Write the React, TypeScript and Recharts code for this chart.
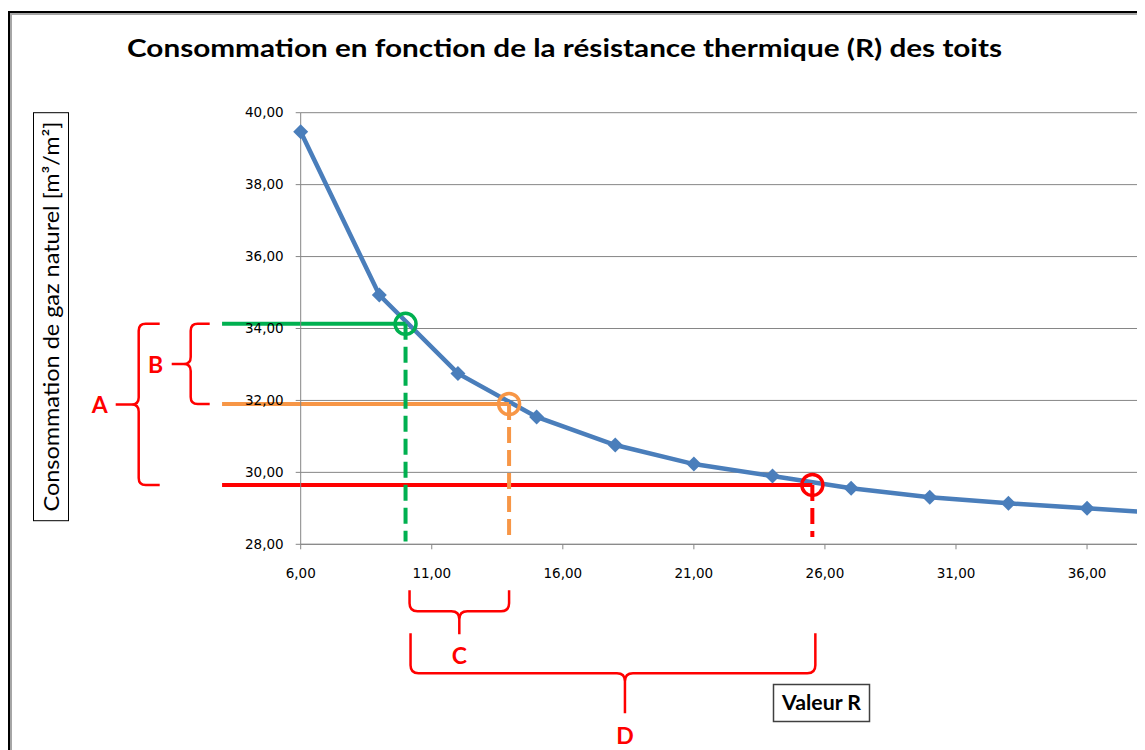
import React from 'react';
import {
  LineChart,
  Line,
  XAxis,
  YAxis,
  CartesianGrid,
  ReferenceLine,
  ReferenceDot,
  ReferenceArea,
} from 'recharts';

// ---- data ----
const R_VALUES = [6, 9, 12, 15, 18, 21, 24, 27, 30, 33, 36, 39];
const CONSUMPTION = [39.47, 34.93, 32.75, 31.54, 30.76, 30.23, 29.9, 29.56, 29.31, 29.14, 29.0, 28.86];
const X_TICKS = [6, 11, 16, 21, 26, 31, 36];
const Y_TICKS = [28, 30, 32, 34, 36, 38, 40];

// highlighted readings (green, orange, red)
const MARK_R = [10, 13.95, 25.52];
const MARK_CONS = [34.13, 31.9, 29.65];
const MARK_COLORS = ['#00B050', '#F79646', '#FF0000'];
const MARK_LINE_START = 3;
const MARK_DASH_END = [28.08, 28.08, 28.2];

const TITLE = 'Consommation en fonction de la résistance thermique (R) des toits';
const Y_TITLE = 'Consommation de gaz naturel [m³/m²]';
const X_TITLE = 'Valeur R';
const BRACE_LABELS = ['A', 'B', 'C', 'D'];

const data = R_VALUES.map((r, i) => ({ r, c: CONSUMPTION[i] }));
const fmt = (v: number) => v.toFixed(2).replace('.', ',');

const SERIES_COLOR = '#4A7EBB';
const GRID = '#868686';
const BRACE_RED = '#FF0000';
const FONT = 'Lato, "Open Sans", sans-serif';

const Diamond = (props: any) => {
  const { cx, cy, index } = props;
  if (cx == null || cy == null) return <g key={`d${index}`} />;
  const s = 7.5;
  return (
    <path
      key={`d${index}`}
      d={`M${cx},${cy - s} L${cx + s},${cy} L${cx},${cy + s} L${cx - s},${cy} Z`}
      fill={SERIES_COLOR}
    />
  );
};

// vertical curly brace (point on the left), offsets relative to plot left
const vBrace =
  (o: { arm: number; spine: number; tip: number; lx: number; label: string }) =>
  (p: any) => {
    const top = Math.min(p.y, p.y + p.height);
    const bot = Math.max(p.y, p.y + p.height);
    const mid = (top + bot) / 2;
    const x0 = Math.min(p.x, p.x + p.width);
    const a = x0 + o.arm;
    const s = x0 + o.spine;
    const t = x0 + o.tip;
    const r = 7;
    const d = `M${a},${top} L${s + r},${top} Q${s},${top} ${s},${top + r} L${s},${mid - r} Q${s},${mid} ${s - r},${mid} L${t},${mid} M${s - r},${mid} Q${s},${mid} ${s},${mid + r} L${s},${bot - r} Q${s},${bot} ${s + r},${bot} L${a},${bot}`;
    return (
      <g>
        <path d={d} fill="none" stroke={BRACE_RED} strokeWidth={2.5} />
        <text
          x={x0 + o.lx}
          y={mid}
          dominantBaseline="central"
          textAnchor="middle"
          fontFamily={FONT}
          fontWeight="bold"
          fontSize={23}
          fill={BRACE_RED}
        >
          {o.label}
        </text>
      </g>
    );
  };

// horizontal curly brace (point downward), offsets relative to plot bottom
const hBrace =
  (o: { dl: number; dr: number; yTop: number; yLine: number; yTip: number; shift: number; ly: number; label: string }) =>
  (p: any) => {
    const left = Math.min(p.x, p.x + p.width) + o.dl;
    const right = Math.max(p.x, p.x + p.width) + o.dr;
    const base = Math.max(p.y, p.y + p.height);
    const m = (left + right) / 2 + o.shift;
    const yt = base + o.yTop;
    const yl = base + o.yLine;
    const yp = base + o.yTip;
    const r = 8;
    const d = `M${left},${yt} L${left},${yl - r} Q${left},${yl} ${left + r},${yl} L${m - r},${yl} Q${m},${yl} ${m},${yl + r} L${m},${yp} M${m},${yl + r} Q${m},${yl} ${m + r},${yl} L${right - r},${yl} Q${right},${yl} ${right},${yl - r} L${right},${yt}`;
    return (
      <g>
        <path d={d} fill="none" stroke={BRACE_RED} strokeWidth={2.5} />
        <text
          x={m}
          y={base + o.ly}
          dominantBaseline="central"
          textAnchor="middle"
          fontFamily={FONT}
          fontWeight="bold"
          fontSize={23}
          fill={BRACE_RED}
        >
          {o.label}
        </text>
      </g>
    );
  };

export default function App() {
  const W = 1137;
  const H = 742;
  return (
    <div style={{ position: 'relative', width: W, height: H, overflow: 'hidden', background: '#fff' }}>
      {/* frame */}
      <div
        style={{
          position: 'absolute',
          left: 0,
          top: 3,
          width: W + 60,
          height: H + 60,
          border: '2px solid #000',
          boxShadow: 'inset 2px 2px 0 #a6a6a6',
          boxSizing: 'border-box',
        }}
      />
      <svg width={W} height={H} style={{ position: 'absolute', left: 0, top: 0 }}>
        <text
          x={556.5}
          y={49}
          textAnchor="middle"
          fontFamily={FONT}
          fontWeight="bold"
          fontSize={25}
          fill="#000"
          textLength={875}
          lengthAdjust="spacingAndGlyphs"
        >
          {TITLE}
        </text>
        <rect x={25.5} y={104.7} width={35} height={408} fill="#fff" stroke="#000" strokeWidth={1} />
        <text
          transform="translate(51, 308.5) rotate(-90)"
          x={0}
          y={0}
          textAnchor="middle"
          fontFamily={FONT}
          fontSize={20.5}
          fill="#000"
          textLength={390}
          lengthAdjust="spacingAndGlyphs"
        >
          {Y_TITLE}
        </text>
        <rect x={765.5} y={676.5} width={96} height={37} fill="#fff" stroke="#404040" strokeWidth={1.5} />
        <text
          x={813.5}
          y={702}
          textAnchor="middle"
          fontFamily={FONT}
          fontWeight="bold"
          fontSize={21}
          fill="#000"
          textLength={79}
          lengthAdjust="spacingAndGlyphs"
        >
          {X_TITLE}
        </text>
      </svg>
      <div style={{ position: 'absolute', left: 0, top: 0 }}>
        <LineChart
          width={1230}
          height={742}
          data={data}
          margin={{ top: 104.7, right: 19.9, bottom: 165.7, left: 232.7 }}
          style={{ overflow: 'visible' }}
        >
          <CartesianGrid vertical={false} stroke={GRID} strokeWidth={1} />
          <XAxis
            dataKey="r"
            type="number"
            domain={[6, 41]}
            ticks={X_TICKS}
            interval={0}
            tickFormatter={fmt}
            height={40}
            tickSize={5}
            tickMargin={19}
            axisLine={{ stroke: GRID }}
            tickLine={{ stroke: GRID }}
            tick={{ fontSize: 13.5, fill: '#000', fontFamily: 'DejaVu Sans' }}
          />
          <YAxis
            type="number"
            domain={[28, 40]}
            ticks={Y_TICKS}
            interval={0}
            tickFormatter={fmt}
            width={60}
            tickSize={5}
            tickMargin={12}
            axisLine={{ stroke: GRID }}
            tickLine={{ stroke: GRID }}
            tick={{ fontSize: 13.5, fill: '#000', fontFamily: 'DejaVu Sans' }}
          />
          <Line
            dataKey="c"
            type="linear"
            stroke={SERIES_COLOR}
            strokeWidth={4.5}
            dot={Diamond}
            activeDot={false}
            isAnimationActive={false}
          />
          {MARK_R.map((r, i) => (
            <ReferenceLine
              key={`h${i}`}
              segment={[
                { x: MARK_LINE_START, y: MARK_CONS[i] },
                { x: r, y: MARK_CONS[i] },
              ]}
              stroke={MARK_COLORS[i]}
              strokeWidth={4}
              ifOverflow="visible"
            />
          ))}
          {MARK_R.map((r, i) => (
            <ReferenceLine
              key={`v${i}`}
              segment={[
                { x: r, y: MARK_CONS[i] },
                { x: r, y: MARK_DASH_END[i] },
              ]}
              stroke={MARK_COLORS[i]}
              strokeWidth={4}
              strokeDasharray="16 7"
              ifOverflow="visible"
            />
          ))}
          {MARK_R.map((r, i) => (
            <ReferenceDot
              key={`c${i}`}
              x={r}
              y={MARK_CONS[i]}
              r={10.5}
              fill="none"
              stroke={MARK_COLORS[i]}
              strokeWidth={3.5}
              ifOverflow="visible"
            />
          ))}
          <ReferenceArea
            y1={MARK_CONS[0]}
            y2={MARK_CONS[2]}
            ifOverflow="visible"
            shape={vBrace({ arm: -141, spine: -162, tip: -185, lx: -201, label: BRACE_LABELS[0] })}
          />
          <ReferenceArea
            y1={MARK_CONS[0]}
            y2={MARK_CONS[1]}
            ifOverflow="visible"
            shape={vBrace({ arm: -91, spine: -110, tip: -129, lx: -145, label: BRACE_LABELS[1] })}
          />
          <ReferenceArea
            x1={MARK_R[0]}
            x2={MARK_R[1]}
            ifOverflow="visible"
            shape={hBrace({ dl: 4, dr: 0, yTop: 46, yLine: 67, yTip: 90, shift: 0, ly: 111, label: BRACE_LABELS[2] })}
          />
          <ReferenceArea
            x1={MARK_R[0]}
            x2={MARK_R[2]}
            ifOverflow="visible"
            shape={hBrace({ dl: 5, dr: 3, yTop: 89, yLine: 129, yTip: 169, shift: 12, ly: 191, label: BRACE_LABELS[3] })}
          />
        </LineChart>
      </div>
    </div>
  );
}
